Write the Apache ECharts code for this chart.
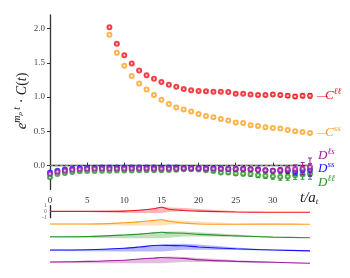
<!DOCTYPE html>
<html><head><meta charset="utf-8">
<script src="https://cdn.jsdelivr.net/npm/echarts@6/dist/echarts.min.js"></script>
<style>html,body{margin:0;padding:0;background:#fff}#c{width:350px;height:278px}</style>
</head><body><div id="c"></div>
<script>
// ---- data ----
const tC = [8,9,10,11,12,13,14,15,16,17,18,19,20,21,22,23,24,25,26,27,28,29,30,31,32,33,34,35];
const tD = [0,1,2,3,4,5,6,7,8,9,10,11,12,13,14,15,16,17,18,19,20,21,22,23,24,25,26,27,28,29,30,31,32,33,34,35];
const cLL = [2.02,1.78,1.61,1.49,1.39,1.32,1.27,1.22,1.18,1.15,1.12,1.10,1.09,1.085,1.08,1.08,1.075,1.05,1.05,1.04,1.03,1.03,1.04,1.03,1.02,1.01,1.02,1.02];
const cSS = [1.91,1.65,1.46,1.31,1.20,1.11,1.03,0.96,0.90,0.85,0.82,0.79,0.755,0.725,0.705,0.68,0.657,0.63,0.62,0.59,0.578,0.56,0.548,0.54,0.52,0.50,0.49,0.475];
const eCLL = [0.005,0.005,0.005,0.005,0.005,0.005,0.005,0.005,0.005,0.005,0.006,0.006,0.007,0.008,0.008,0.009,0.01,0.011,0.012,0.013,0.015,0.017,0.02,0.022,0.025,0.028,0.03,0.033];
const dLL = [-0.17,-0.125,-0.11,-0.095,-0.085,-0.08,-0.078,-0.075,-0.075,-0.073,-0.072,-0.072,-0.07,-0.07,-0.068,-0.068,-0.065,-0.062,-0.055,-0.055,-0.058,-0.07,-0.08,-0.1,-0.1,-0.115,-0.12,-0.125,-0.14,-0.15,-0.155,-0.165,-0.16,-0.14,-0.13,-0.12];
const dSS = [-0.10,-0.076,-0.056,-0.047,-0.04,-0.035,-0.033,-0.03,-0.03,-0.028,-0.028,-0.027,-0.027,-0.027,-0.027,-0.027,-0.028,-0.03,-0.035,-0.035,-0.035,-0.038,-0.04,-0.042,-0.05,-0.05,-0.05,-0.055,-0.055,-0.07,-0.075,-0.07,-0.075,-0.09,-0.07,-0.065];
const dLS = [-0.12,-0.09,-0.075,-0.06,-0.055,-0.05,-0.048,-0.046,-0.045,-0.045,-0.045,-0.044,-0.044,-0.044,-0.045,-0.045,-0.045,-0.045,-0.043,-0.043,-0.044,-0.045,-0.046,-0.048,-0.05,-0.05,-0.052,-0.055,-0.065,-0.07,-0.075,-0.07,-0.055,-0.05,-0.045,-0.02];
const eLL = [0.004,0.004,0.004,0.004,0.004,0.005,0.005,0.005,0.005,0.006,0.006,0.006,0.007,0.007,0.007,0.008,0.008,0.009,0.01,0.012,0.015,0.017,0.02,0.022,0.025,0.028,0.03,0.033,0.037,0.04,0.045,0.05,0.055,0.062,0.07,0.08];
const eSS = [0.004,0.004,0.004,0.004,0.004,0.004,0.004,0.005,0.005,0.005,0.005,0.005,0.006,0.006,0.006,0.007,0.007,0.008,0.008,0.009,0.009,0.01,0.01,0.011,0.012,0.014,0.016,0.018,0.02,0.024,0.028,0.032,0.04,0.05,0.065,0.09];
const eLS = [0.004,0.004,0.004,0.004,0.004,0.004,0.004,0.005,0.005,0.005,0.005,0.005,0.006,0.006,0.006,0.007,0.007,0.008,0.008,0.009,0.009,0.01,0.01,0.011,0.012,0.014,0.016,0.018,0.022,0.026,0.03,0.035,0.045,0.06,0.09,0.13];
const xTicks = [0,5,10,15,20,25,30];
const yTicks = [0,0.5,1,1.5,2];
const smallTicks = [-1,0,1];
// bottom panels
const panelT = [0,5,10,12,14,15,16,18,20,25,30,35];
const redLine = [0.05,0.05,0.1,0.25,0.5,0.75,0.4,0.2,0.1,-0.05,-0.1,-0.1];
const redHi   = [0.1,0.1,0.18,0.32,0.58,0.82,0.7,0.6,0.45,0.12,-0.05,-0.06];
const redLo   = [-0.02,-0.05,-0.2,-0.2,-0.2,-0.2,-0.05,0.12,0.05,-0.1,-0.14,-0.14];
const orgLine = [0,0,0.2,0.35,0.6,0.7,0.45,0.15,0,-0.05,0,-0.05];
const orgHi   = [0.05,0.06,0.25,0.4,0.65,0.82,0.7,0.55,0.4,0.08,0.04,-0.02];
const orgLo   = [-0.1,-0.18,-0.25,-0.25,-0.25,-0.25,-0.1,0.08,-0.04,-0.1,-0.05,-0.08];
const grnLine = [-0.05,0,0.25,0.4,0.6,0.7,0.6,0.55,0.35,0.1,-0.1,-0.2];
const grnHi   = [0,0.05,0.3,0.45,0.65,0.78,0.85,0.82,0.7,0.32,-0.03,-0.17];
const grnLo   = [-0.22,-0.25,-0.28,-0.28,-0.28,-0.28,-0.2,0.0,0.0,-0.05,-0.15,-0.24];
const bluLine = [0,0.05,0.3,0.5,0.75,0.8,0.75,0.7,0.5,0.2,0,-0.15];
const bluHi   = [0.05,0.1,0.35,0.55,0.8,0.88,1.0,1.05,0.9,0.42,0.06,-0.1];
const bluLo   = [-0.15,-0.2,-0.25,-0.25,-0.25,-0.25,-0.15,0.05,0.05,0.02,-0.08,-0.2];
const purLine = [0,0.1,0.3,0.5,0.65,0.75,0.7,0.6,0.35,0.1,-0.05,-0.2];
const purHi   = [0.05,0.15,0.35,0.55,0.72,0.85,0.9,0.85,0.65,0.32,0.04,-0.16];
const purLo   = [-0.15,-0.2,-0.22,-0.22,-0.22,-0.22,-0.12,0.0,0.0,-0.05,-0.12,-0.25];

// ---- styles ----
const RED='#f0141e', ORG='#ffa020', GRN='#2a962a', BLU='#1414ff', PUR='#a0209a';
const SERIF='"Liberation Serif","DejaVu Serif",serif';

function errRender(color){
  return function(params, api){
    const x=api.value(0), y=api.value(1), e=api.value(2);
    const top=api.coord([x,y+e]), bot=api.coord([x,y-e]);
    const w=2;
    const st={stroke:color,lineWidth:1};
    return {type:'group', children:[
      {type:'line', shape:{x1:top[0],y1:top[1],x2:bot[0],y2:bot[1]}, style:st},
      {type:'line', shape:{x1:top[0]-w,y1:top[1],x2:top[0]+w,y2:top[1]}, style:st},
      {type:'line', shape:{x1:bot[0]-w,y1:bot[1],x2:bot[0]+w,y2:bot[1]}, style:st}
    ]};
  };
}
function errSeries(ts, vals, errs, color, z){
  return {type:'custom', xAxisIndex:0, yAxisIndex:0, z:z, silent:true,
    renderItem: errRender(color), encode:{x:0,y:1},
    data: ts.map((t,i)=>[t, vals[i], errs[i]])};
}
function pts(ts, vals, color, z, extra){
  return Object.assign({type:'scatter', xAxisIndex:0, yAxisIndex:0, z:z, symbol:'emptyCircle', symbolSize:4,
    itemStyle:{color:color, borderColor:color, borderWidth:1.1},
    data: ts.map((t,i)=>[t, vals[i]])}, extra||{});
}
function bandRender(fill){
  return function(params, api){
    if (params.dataIndexInside !== 0) return null;
    const n = params.dataInsideLength;
    const upper=[], lower=[];
    for (let i=0;i<n;i++){
      const t=api.value(0,i);
      upper.push(api.coord([t, api.value(2,i)]));
      lower.push(api.coord([t, api.value(1,i)]));
    }
    return {type:'polygon', shape:{points: upper.concat(lower.reverse())}, style:{fill:fill}};
  };
}
const series = [];
series.push(errSeries(tC, cLL, eCLL, RED, 3));
series.push(pts(tC, cLL, RED, 4));
series.push(pts(tC, cSS, ORG, 4));
series.push(errSeries(tD, dLL, eLL, GRN, 3));
series.push(pts(tD, dLL, GRN, 4, {markLine:{silent:true, symbol:'none', z:1, label:{show:false},
  lineStyle:{type:[3,2], color:'#888', width:1.2}, data:[{yAxis:0}]}}));
series.push(errSeries(tD, dSS, eSS, BLU, 5));
series.push(pts(tD, dSS, BLU, 6));
series.push(errSeries(tD, dLS, eLS, PUR, 7));
series.push(pts(tD, dLS, PUR, 8));

const panels = [
  [redLine, redHi, redLo, RED, 'rgba(240,20,30,0.3)'],
  [orgLine, orgHi, orgLo, ORG, 'rgba(255,160,32,0.3)'],
  [grnLine, grnHi, grnLo, GRN, 'rgba(42,150,42,0.3)'],
  [bluLine, bluHi, bluLo, BLU, 'rgba(20,20,255,0.3)'],
  [purLine, purHi, purLo, PUR, 'rgba(160,32,154,0.3)']
];
panels.forEach((p, k)=>{
  const idx=k+1;
  series.push({type:'custom', xAxisIndex:idx, yAxisIndex:idx, silent:true, renderItem: bandRender(p[4]),
    encode:{x:0, y:[1,2]}, data: panelT.map((t,i)=>[t, p[2][i], p[1][i]])});
  series.push({type:'line', xAxisIndex:idx, yAxisIndex:idx, symbol:'none', smooth:0.3, silent:true, z:3,
    lineStyle:{color:p[3], width:1.1}, data: panelT.map((t,i)=>[t, p[0][i]])});
});

const panelTops = [205.7, 218, 230.5, 244, 256];
const grids = [{left:50, top:15, width:260, height:174.5}];
panelTops.forEach(t=>grids.push({left:50, top:t, width:260, height:12}));

const xAxes = [{type:'value', gridIndex:0, min:0, max:35,
  axisLine:{show:true, lineStyle:{color:'#333', width:1.3}},
  axisTick:{show:true, inside:true, length:3, customValues:xTicks, lineStyle:{color:'#333'}},
  axisLabel:{customValues:xTicks, fontFamily:SERIF, fontSize:9, color:'#333', margin:7},
  splitLine:{show:false}}];
const yAxes = [{type:'value', gridIndex:0, min:-0.35, max:2.2,
  axisLine:{show:true, lineStyle:{color:'#333', width:1.3}},
  axisTick:{show:true, inside:false, length:3, customValues:yTicks, lineStyle:{color:'#333'}},
  axisLabel:{customValues:yTicks, formatter:v=>v.toFixed(1), fontFamily:SERIF, fontSize:9, color:'#444', margin:5},
  splitLine:{show:false}}];
panelTops.forEach((t,k)=>{
  xAxes.push({type:'value', gridIndex:k+1, min:0, max:35, show:false});
  yAxes.push({type:'value', gridIndex:k+1, min:-1, max:1, show:k===0,
    axisLine:{show:true, lineStyle:{color:'#222', width:1.3}},
    axisTick:{show:false},
    axisLabel:{show:true, customValues:smallTicks, fontSize:6, color:'#777', margin:3, fontFamily:SERIF},
    splitLine:{show:false}});
});

function lab(x, y, letter, sup, color){
  return {type:'text', x:x, y:y, silent:true, style:{
    text:'{L|'+letter+'}{s|'+sup+'}', fill:color, textVerticalAlign:'middle',
    rich:{L:{fontFamily:SERIF, fontStyle:'italic', fontSize:13, fill:color},
          s:{fontFamily:SERIF, fontStyle:'italic', fontSize:9, fill:color, padding:[0,0,8,0]}}}};
}
const graphics = [
  {type:'text', x:317, y:96, silent:true, style:{text:'—', fill:RED, font:'11px '+SERIF, textVerticalAlign:'middle'}},
  lab(325, 96, 'C', 'ℓℓ', RED),
  {type:'text', x:317, y:133, silent:true, style:{text:'—', fill:ORG, font:'11px '+SERIF, textVerticalAlign:'middle'}},
  lab(325, 133, 'C', 'ss', ORG),
  lab(318, 156, 'D', 'ℓs', PUR),
  lab(318, 169, 'D', 'ss', BLU),
  lab(318, 183, 'D', 'ℓℓ', GRN),
  {type:'text', x:300, y:198, silent:true, style:{
    text:'{i|t/a}{b|t}', fill:'#222', textVerticalAlign:'middle',
    rich:{i:{fontFamily:SERIF, fontStyle:'italic', fontSize:15, fill:'#222'},
          b:{fontFamily:SERIF, fontStyle:'italic', fontSize:9, fill:'#222', padding:[7,0,0,0]}}}},
  {type:'text', x:22, y:101, rotation:Math.PI/2, silent:true, style:{
    text:'{e|e}{s|m}{ss|ρ}{s| t}{n| · }{i|C}{n|(}{i|t}{n|)}', fill:'#222', textAlign:'center', textVerticalAlign:'middle',
    rich:{e:{fontFamily:SERIF, fontStyle:'italic', fontSize:15, fill:'#222'},
          s:{fontFamily:SERIF, fontStyle:'italic', fontSize:10, fill:'#222', padding:[0,0,10,0]},
          ss:{fontFamily:SERIF, fontStyle:'italic', fontSize:7, fill:'#222', padding:[0,0,3,0]},
          n:{fontFamily:SERIF, fontSize:14, fill:'#222'},
          i:{fontFamily:SERIF, fontStyle:'italic', fontSize:14, fill:'#222'}}}}
];

const chart = echarts.init(document.getElementById('c'), null, {renderer:'canvas'});
chart.setOption({
  animation:false, backgroundColor:'#fff',
  grid:grids, xAxis:xAxes, yAxis:yAxes, series:series, graphic:graphics
});
</script></body></html>
